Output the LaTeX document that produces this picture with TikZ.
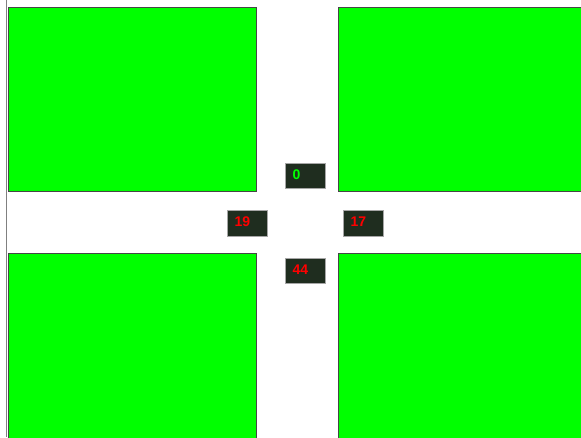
\documentclass[tikz,border=0pt]{standalone}
\usepackage{fontspec}
\setmainfont{Liberation Sans}
\definecolor{grass}{RGB}{0,255,0}
\definecolor{boxbg}{RGB}{31,45,31}
\definecolor{edge}{RGB}{70,70,70}
\definecolor{redtxt}{RGB}{255,0,0}
\definecolor{greentxt}{RGB}{0,255,0}
\begin{document}
\begin{tikzpicture}[x=1pt,y=-1pt,
  block/.style={anchor=north west,inner sep=0pt,outer sep=0pt,fill=grass,draw=edge,line width=1pt},
  signal/.style={anchor=north west,inner sep=0pt,outer sep=0pt,fill=boxbg,draw=gray!70,line width=0.8pt,minimum width=40pt,minimum height=25.5pt},
  num/.style={anchor=west,inner sep=0pt,font=\bfseries\fontsize{14}{14}\selectfont}
]
\useasboundingbox (0,0) rectangle (581,437);
\clip (0,0) rectangle (581,437);
\fill[white] (0,0) rectangle (581,437);
% left edge strip
\draw[gray,line width=1.5pt] (6.5,0) -- (6.5,437);
% green blocks
\node[block,minimum width=248pt,minimum height=184.5pt] (tl) at (8,7) {};
\node[block,minimum width=250pt,minimum height=184.5pt] (tr) at (338,7) {};
\node[block,minimum width=248pt,minimum height=190pt] (bl) at (8,253) {};
\node[block,minimum width=250pt,minimum height=190pt] (br) at (338,253) {};
% signal boxes
\node[signal] (n) at (285.3,163.3) {};
\node[signal] (w) at (227.3,210.5) {};
\node[signal] (e) at (343.3,210.5) {};
\node[signal] (s) at (285.3,258) {};
\node[num,text=greentxt] (nt) at ([xshift=7pt,yshift=1.5pt]n.west) {0};
\node[num,text=redtxt] (wt) at ([xshift=7pt,yshift=1.5pt]w.west) {19};
\node[num,text=redtxt] (et) at ([xshift=7pt,yshift=1.5pt]e.west) {17};
\node[num,text=redtxt] (st) at ([xshift=7pt,yshift=1.5pt]s.west) {44};
\end{tikzpicture}
\end{document}
